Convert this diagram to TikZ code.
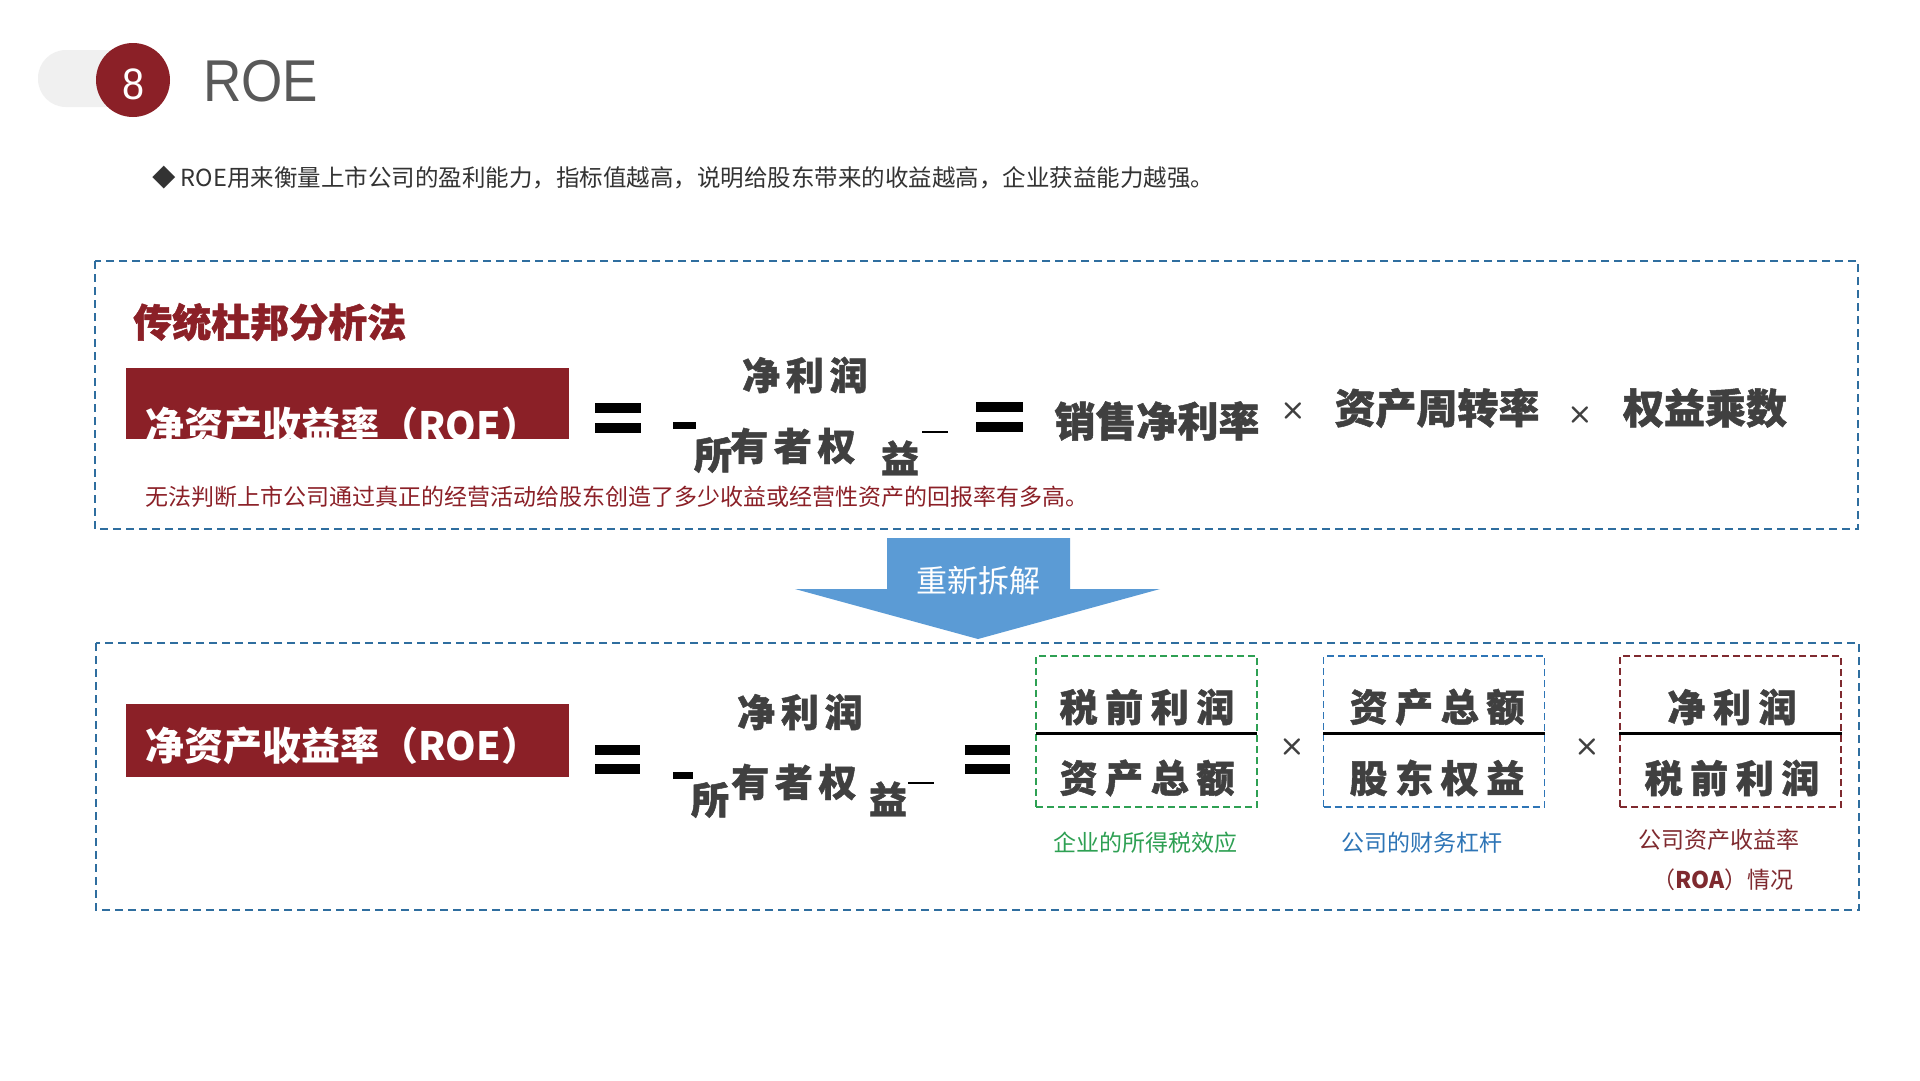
\documentclass[tikz,border=0pt]{standalone}
\usepackage{fontspec}
\setmainfont{Liberation Sans}
\newfontfamily\cjk{Noto Sans CJK SC}
\newfontfamily\cjkheavy[BoldFeatures={FakeBold=1.2}]{Noto Sans CJK SC}
\newfontfamily\cjkspread[LetterSpace=15,BoldFeatures={FakeBold=1.2}]{Noto Sans CJK SC}
\newfontfamily\cjkwide[LetterSpace=20,BoldFeatures={FakeBold=1.2}]{Noto Sans CJK SC}
\newfontfamily\narrowsans[FakeStretch=0.9]{Liberation Sans}

\definecolor{roered}{HTML}{8B2027}
\definecolor{dashblue}{HTML}{2F6E9F}
\definecolor{arrowblue}{HTML}{5B9BD5}
\definecolor{taxgreen}{HTML}{2EA053}
\definecolor{levblue}{HTML}{2E75B6}
\definecolor{roadred}{HTML}{7F2A2F}
\definecolor{formulagray}{HTML}{404040}
\definecolor{titlegray}{HTML}{595959}
\definecolor{bodygray}{HTML}{333333}
\definecolor{pillgray}{HTML}{F0F0F0}

\begin{document}
\begin{tikzpicture}[x=1pt,y=-1pt,
	formula/.style={font=\cjkheavy\bfseries\fontsize{41}{44}\selectfont, text=formulagray, inner sep=0pt},
	fraction/.style={font=\cjkspread\bfseries\fontsize{38}{40}\selectfont, text=formulagray, inner sep=0pt},
	parttext/.style={font=\cjkwide\bfseries\fontsize{38}{40}\selectfont, text=formulagray, inner sep=0pt},
	roebox/.style={fill=roered, minimum width=443pt, minimum height=71pt, inner sep=0pt},
	roetext/.style={font=\cjk\bfseries\fontsize{39}{42}\selectfont, text=white, inner sep=0pt, anchor=west},
	frame/.style={draw=dashblue, line width=2pt, dash pattern=on 8pt off 5pt},
	partbox/.style={line width=1.6pt, dash pattern=on 7pt off 4pt, minimum width=221pt, minimum height=151pt, inner sep=0pt},
	caption/.style={font=\cjk\fontsize{23}{26}\selectfont, inner sep=0pt},
	timessign/.style={font=\sffamily\bfseries\fontsize{30}{30}\selectfont, text=formulagray, inner sep=0pt}
]
\useasboundingbox[fill=white] (0,0) rectangle (1920,1080);

% header
\fill[pillgray, rounded corners=28pt] (38,50) rectangle (150,107);
\node[circle, fill=roered, minimum size=74pt, inner sep=0pt] (badge) at (133,80) {};
\node[inner sep=0pt, text=white, font=\narrowsans\fontsize{44}{44}\selectfont] (badgenum) at (134,84) {8};
\node[anchor=west, inner sep=0pt, text=titlegray, font=\narrowsans\fontsize{59}{60}\selectfont] (title) at (203,81) {ROE};
\node[anchor=west, caption, text=bodygray, font=\cjk\fontsize{23.5}{26}\selectfont] (intro) at (152,178)
	{◆ ROE用来衡量上市公司的盈利能力，指标值越高，说明给股东带来的收益越高，企业获益能力越强。};

% traditional dupont
\draw[frame] (95,261) rectangle (1858,529);
\node[anchor=west, inner sep=0pt, text=roered, font=\cjkheavy\bfseries\fontsize{39}{42}\selectfont] (oldname) at (133,322) {传统杜邦分析法};
\node[roebox] (roetop) at (347.5,403.5) {};
\begin{scope}
	\clip (roetop.south west) rectangle (roetop.north east);
	\node[roetext] (roetoptext) at (145,426) {净资产收益率（ROE）};
\end{scope}
\fill (595,403) rectangle (641,413);
\fill (595,423) rectangle (641,433);
\node[fraction, anchor=west] (nettop) at (742,375) {净利润};
\fill (673,422) rectangle (696,429);
\node[fraction] (suotop) at (713,455) {所};
\node[fraction, anchor=west] (owntop) at (730,446) {有者权};
\node[fraction] (yitop) at (900,458) {益};
\fill (922,431) rectangle (948,433);
\fill (976,402) rectangle (1023,412);
\fill (976,422) rectangle (1023,432);
\node[formula] (margin) at (1157,421) {销售净利率};
\node[timessign] (x1) at (1293,411) {×};
\node[formula] (turnover) at (1437,408) {资产周转率};
\node[timessign] (x2) at (1580,415) {×};
\node[formula] (multiplier) at (1705,408) {权益乘数};
\node[anchor=west, caption, text=roered] (note) at (145,497)
	{无法判断上市公司通过真正的经营活动给股东创造了多少收益或经营性资产的回报率有多高。};

% arrow
\fill[arrowblue] (887,538) -- (1070,538) -- (1070,589) -- (1160,589) -- (978,639)
	-- (795,589) -- (887,589) -- cycle;
\node[inner sep=0pt, text=white, font=\cjk\fontsize{31}{34}\selectfont] (resplit) at (978,581) {重新拆解};

% new split
\draw[frame] (96,643) rectangle (1859,910);
\node[roebox, minimum height=73pt] (roebot) at (347.5,740.5) {};
\node[roetext] (roebottext) at (145,746) {净资产收益率（ROE）};
\fill (595,745) rectangle (640,755);
\fill (595,764) rectangle (640,774);
\node[fraction, anchor=west] (netbot) at (737,712) {净利润};
\fill (673,772) rectangle (693,779);
\node[fraction] (suobot) at (710,800) {所};
\node[fraction, anchor=west] (ownbot) at (731,782) {有者权};
\node[fraction] (yibot) at (888,799) {益};
\fill (908,782) rectangle (934,784);
\fill (965,745) rectangle (1010,755);
\fill (965,764) rectangle (1010,774);

\node[partbox, draw=taxgreen] (taxbox) at (1146.5,731.5) {};
\draw[line width=3pt] (1036,733) -- (1257,733);
\node[parttext] (taxnum) at (1147,707) {税前利润};
\node[parttext] (taxden) at (1147,778) {资产总额};
\node[timessign] (x3) at (1292,747) {×};
\node[partbox, draw=levblue] (levbox) at (1434,731.5) {};
\draw[line width=3pt] (1323,733) -- (1545,733);
\node[parttext] (levnum) at (1437,707) {资产总额};
\node[parttext] (levden) at (1437,778) {股东权益};
\node[timessign] (x4) at (1587,747) {×};
\node[partbox, draw=roadred] (roabox) at (1730.5,731.5) {};
\draw[line width=3pt] (1619,733) -- (1842,733);
\node[parttext] (roanum) at (1732,707) {净利润};
\node[parttext] (roaden) at (1732,778) {税前利润};

\node[caption, text=taxgreen] (taxcap) at (1145,843) {企业的所得税效应};
\node[caption, text=levblue] (levcap) at (1422,843) {公司的财务杠杆};
\node[caption, text=roadred] (roacap) at (1719,840) {公司资产收益率};
\node[caption, text=roadred] (roacap2) at (1723,880) {（\textbf{ROA}）情况};

\end{tikzpicture}
\end{document}
